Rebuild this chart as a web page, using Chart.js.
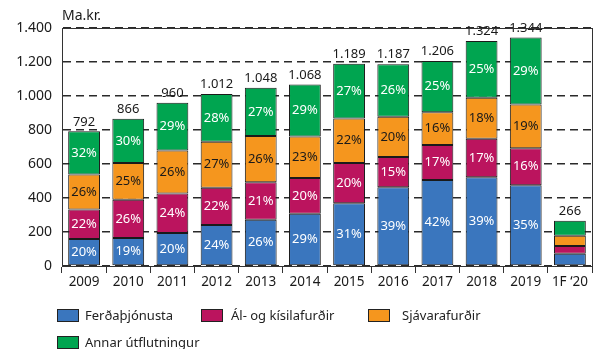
<!DOCTYPE html>
<html lang="is">
<head>
<meta charset="utf-8">
<title>Útflutningur</title>
<script src="https://cdn.jsdelivr.net/npm/chart.js@4"></script>
<style>
  html, body { margin: 0; padding: 0; background: #fff; }
  #wrap { position: relative; width: 599px; height: 349px; font-family: 'Noto Sans', sans-serif; color: #222; }
  #wrap canvas { position: absolute; left: 0; top: 0; }
  .lg { position: absolute; font-size: 13px; line-height: 14px; white-space: nowrap; }
  .lg i { position: absolute; left: 0; top: 0; width: 20px; height: 11px; border: 1px solid #222; }
  .lg span { position: absolute; top: -1px; }
</style>
</head>
<body>
<div id="wrap">
  <canvas id="chart" width="599" height="349"></canvas>
  <div class="lg" style="left:57px;top:309px"><i style="background:#3a76be"></i><span style="left:28px">Ferðaþjónusta</span></div>
  <div class="lg" style="left:201px;top:309px"><i style="background:#bb145e"></i><span style="left:30px">Ál- og kísilafurðir</span></div>
  <div class="lg" style="left:368px;top:309px"><i style="background:#f5961e"></i><span style="left:34px">Sjávarafurðir</span></div>
  <div class="lg" style="left:57px;top:336px"><i style="background:#00a550"></i><span style="left:28px">Annar útflutningur</span></div>
</div>
<script>
// Export revenue by sector, Ma.kr., with each sector's share of the year total
const years   = ['2009', '2010', '2011', '2012', '2013', '2014', '2015', '2016', '2017', '2018', '2019', '1F ‘20'];
const totals  = [792, 866, 960, 1012, 1048, 1068, 1189, 1187, 1206, 1324, 1344, 266];
const tourism = [20, 19, 20, 24, 26, 29, 31, 39, 42, 39, 35, 27];
const metals  = [22, 26, 24, 22, 21, 20, 20, 15, 17, 17, 16, 17];
const seafood = [26, 25, 26, 27, 26, 23, 22, 20, 16, 18, 19, 23];
const other   = [32, 30, 29, 28, 27, 29, 27, 26, 25, 25, 29, 33];
const yTicks  = [0, 200, 400, 600, 800, 1000, 1200, 1400];
// shares are printed on the full years only
const shareShown = years.map(y => y !== '1F ‘20');

const FONT = "'Noto Sans', sans-serif";
const fmt = v => String(Math.round(v)).replace(/\B(?=(\d{3})+(?!\d))/g, '.');

// split each year total into sector amounts by share (shares rounded, so normalise)
const shareSum = years.map((_, i) => tourism[i] + metals[i] + seafood[i] + other[i]);
const amounts = arr => arr.map((p, i) => totals[i] * p / shareSum[i]);

const series = [
  { label: 'Ferðaþjónusta',        shares: tourism, color: '#3a76be', text: '#fff' },
  { label: 'Ál- og kísilafurðir',  shares: metals,  color: '#bb145e', text: '#fff' },
  { label: 'Sjávarafurðir',        shares: seafood, color: '#f5961e', text: '#1a1a1a' },
  { label: 'Annar útflutningur',   shares: other,   color: '#00a550', text: '#fff' },
];

const barLabels = {
  id: 'barLabels',
  afterDatasetsDraw(chart) {
    const ctx = chart.ctx;
    ctx.save();
    ctx.font = '13px ' + FONT;
    ctx.textAlign = 'center';
    ctx.textBaseline = 'middle';
    series.forEach((s, d) => {
      const meta = chart.getDatasetMeta(d);
      meta.data.forEach((bar, i) => {
        if (!shareShown[i]) return;
        const p = bar.getProps(['x', 'y', 'base'], true);
        ctx.fillStyle = s.text;
        ctx.fillText(s.shares[i] + '%', p.x, (p.y + p.base) / 2);
      });
    });
    // year totals above each stack
    const top = chart.getDatasetMeta(series.length - 1);
    ctx.fillStyle = '#1a1a1a';
    ctx.textBaseline = 'bottom';
    top.data.forEach((bar, i) => {
      const p = bar.getProps(['x', 'y'], true);
      ctx.fillText(fmt(totals[i]), p.x, p.y - 3);
    });
    ctx.restore();
  },
  afterDraw(chart) {
    const { ctx, chartArea: a } = chart;
    ctx.save();
    ctx.strokeStyle = '#333';
    ctx.lineWidth = 1;
    ctx.strokeRect(a.left + 0.5, a.top + 0.5, a.right - a.left, a.bottom - a.top);
    ctx.fillStyle = '#1a1a1a';
    ctx.font = '14px ' + FONT;
    ctx.textAlign = 'left';
    ctx.textBaseline = 'middle';
    ctx.fillText('Ma.kr.', a.left, 16);
    ctx.restore();
  }
};

new Chart(document.getElementById('chart'), {
  type: 'bar',
  data: {
    labels: years,
    datasets: series.map(s => ({
      label: s.label,
      data: amounts(s.shares),
      backgroundColor: s.color,
      borderColor: '#1a1a1a',
      borderWidth: 1,
      borderSkipped: false,
      barPercentage: 0.72,
      categoryPercentage: 1,
    }))
  },
  options: {
    responsive: false,
    animation: false,
    events: [],
    layout: { padding: { top: 28, right: 7, bottom: 53, left: 0 } },
    plugins: { legend: { display: false }, tooltip: { enabled: false } },
    scales: {
      x: {
        stacked: true,
        afterFit: s => { s.height = 30; },
        grid: { offset: true, drawOnChartArea: false, drawTicks: true, tickLength: 7, color: '#333' },
        border: { color: '#333', width: 1 },
        ticks: { color: '#1a1a1a', font: { family: FONT, size: 13.5 }, padding: 1, maxRotation: 0, autoSkip: false }
      },
      y: {
        stacked: true,
        min: 0,
        max: 1400,
        afterFit: s => { s.width = 62; },
        afterBuildTicks: s => { s.ticks = yTicks.map(v => ({ value: v })); },
        grid: { color: '#2a2a2a', lineWidth: 1.4, drawTicks: false },
        border: { color: '#333', width: 1, dash: [8, 5] },
        ticks: { color: '#1a1a1a', font: { family: FONT, size: 14 }, padding: 10, callback: v => fmt(v) }
      }
    }
  },
  plugins: [barLabels]
});
</script>
</body>
</html>
